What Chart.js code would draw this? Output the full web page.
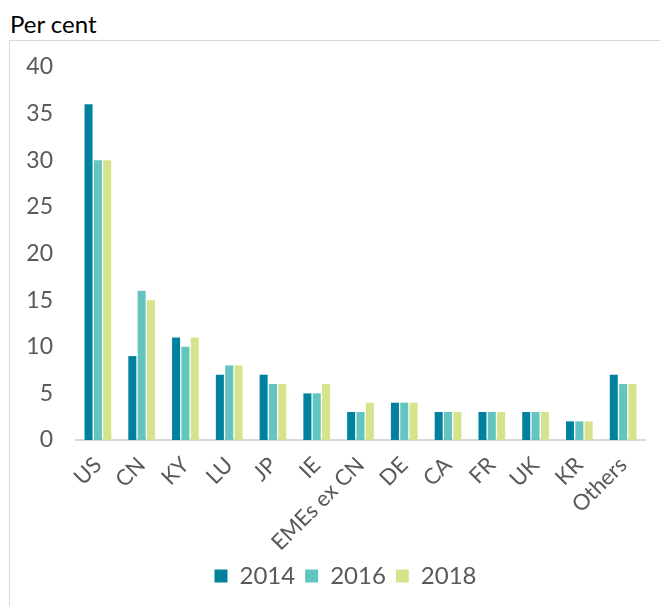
<!DOCTYPE html>
<html>
<head>
<meta charset="utf-8">
<script src="https://cdn.jsdelivr.net/npm/chart.js@4"></script>
<style>
  body { margin: 0; background: #fff; font-family: Lato, sans-serif; }
  #title { position: absolute; left: 10px; top: 9px; font-size: 24px; color: #000; }
  #frame { position: absolute; left: 9px; top: 40px; width: 651px; height: 566px;
           border-left: 1px solid #d9d9d9; border-top: 1px solid #d9d9d9; }
  #wrap { position: absolute; left: 10px; top: 41px; width: 650px; height: 565px; }
</style>
</head>
<body>
<div id="title">Per cent</div>
<div id="frame"></div>
<div id="wrap"><canvas id="chart"></canvas></div>
<script>
const categories = ["US", "CN", "KY", "LU", "JP", "IE", "EMEs ex CN", "DE", "CA", "FR", "UK", "KR", "Others"];
const values2014 = [36, 9, 11, 7, 7, 5, 3, 4, 3, 3, 3, 2, 7];
const values2016 = [30, 16, 10, 8, 6, 5, 3, 4, 3, 3, 3, 2, 6];
const values2018 = [30, 15, 11, 8, 6, 6, 4, 4, 3, 3, 3, 2, 6];
const yTicks = [0, 5, 10, 15, 20, 25, 30, 35, 40];

const grey = "#595959";

function dataset(label, data, color) {
    return {
        label: label,
        data: data,
        backgroundColor: color,
        borderWidth: 0,
        categoryPercentage: 0.64,
        barPercentage: 0.86
    };
}

// nudge the legend right so it sits where the original one does
const legendShift = {
    id: "legendShift",
    afterLayout(chart) {
        chart.legend.left += 18;
        chart.legend.right += 18;
    }
};

const ctx = document.getElementById("chart").getContext("2d");
new Chart(ctx, {
    type: "bar",
    data: {
        labels: categories,
        datasets: [
            dataset("2014", values2014, "#00829f"),
            dataset("2016", values2016, "#63c5c0"),
            dataset("2018", values2018, "#d5e48b")
        ]
    },
    plugins: [legendShift],
    options: {
        responsive: true,
        maintainAspectRatio: false,
        animation: false,
        layout: { padding: { top: 26, bottom: 8, right: 15, left: 0 } },
        plugins: {
            tooltip: { enabled: false },
            legend: {
                position: "bottom",
                labels: {
                    boxWidth: 13,
                    boxHeight: 13,
                    padding: 10,
                    color: grey,
                    font: { family: "Lato", size: 24 }
                }
            }
        },
        scales: {
            x: {
                grid: { display: false, drawTicks: false },
                border: { display: true, color: "#d9d9d9", width: 2 },
                ticks: {
                    color: grey,
                    font: { family: "Lato", size: 22 },
                    maxRotation: 45,
                    minRotation: 45,
                    padding: 12,
                    autoSkip: false
                },
                afterFit: s => { s.height = 114; }
            },
            y: {
                min: 0,
                max: 40,
                afterBuildTicks: s => { s.ticks = yTicks.map(v => ({ value: v })); },
                // ticks hidden (grid off) but their length spaces the labels from the axis
                grid: { display: false, drawTicks: true, tickLength: 20 },
                border: { display: false },
                ticks: {
                    color: grey,
                    font: { family: "Lato", size: 23 },
                    padding: 3
                },
                afterFit: s => { s.width = 66; }
            }
        }
    }
});
</script>
</body>
</html>
